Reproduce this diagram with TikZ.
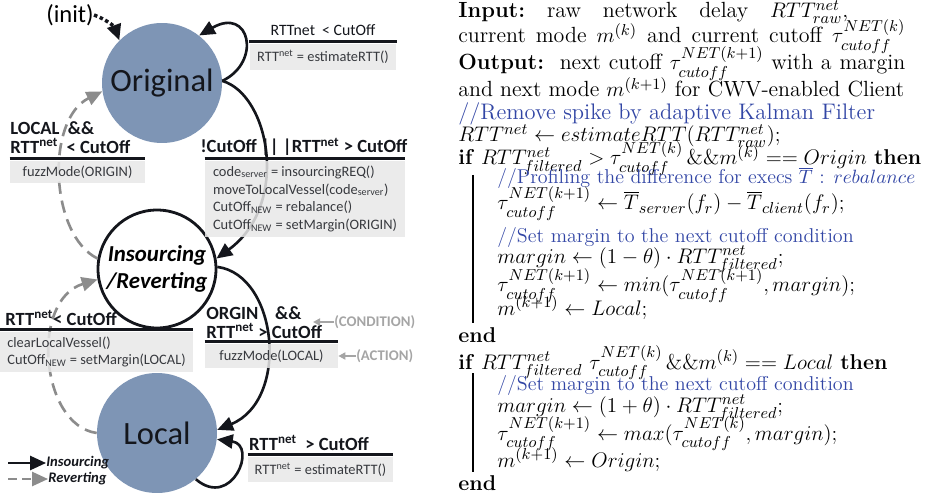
\documentclass[tikz,border=0pt]{standalone}
\usepackage{fontspec}
\usepackage{amsmath}
\usepackage{xcolor}
\usepackage{tikz}
\usetikzlibrary{arrows.meta,positioning,calc}
\newfontfamily\diagfont{Carlito}
\definecolor{ink}{RGB}{20,22,28}
\definecolor{slate}{RGB}{126,149,181}
\definecolor{boxgrey}{RGB}{232,232,232}
\definecolor{revgrey}{RGB}{140,140,140}
\definecolor{notegrey}{RGB}{165,165,165}
\definecolor{cmt}{RGB}{50,70,165}

\begin{document}
\begin{tikzpicture}[x=0.02cm,y=-0.02cm,font=\diagfont,
 mode/.style={circle,fill=slate,minimum size=2.4cm,inner sep=0pt,font=\diagfont\fontsize{18.5}{21}\selectfont,text=ink},
 trans/.style={circle,draw=ink,line width=1.6pt,fill=white,minimum size=2.36cm,inner sep=0pt,align=center,font=\diagfont\bfseries\itshape\fontsize{13}{15.5}\selectfont},
 go/.style={line width=1.5pt,draw=ink,-{Triangle[length=9pt,width=8pt]}},
 back/.style={line width=1.5pt,draw=revgrey,dash pattern=on 7pt off 4pt,-{Triangle[length=9pt,width=8pt,fill=revgrey]}},
 cond/.style={font=\diagfont\bfseries\fontsize{10.6}{11}\selectfont,text=ink,inner sep=0pt,align=left},
 act/.style={fill=boxgrey,fill opacity=0.85,text opacity=1,text=ink!85,font=\diagfont\fontsize{8.2}{10.2}\selectfont,inner sep=0pt},
 rule/.style={line width=1.2pt,draw=ink},
 note/.style={text=notegrey,inner sep=0pt,font=\diagfont\bfseries\fontsize{8.4}{10}\selectfont},
 pointer/.style={draw=notegrey,line width=1.2pt,-{Triangle[length=4pt,width=4pt]}},
 legend/.style={inner sep=0pt,text=ink,font=\diagfont\bfseries\itshape\fontsize{8.3}{10}\selectfont},
 alg/.style={anchor=base west,inner sep=0pt,font=\fontsize{12.2}{14}\selectfont},
 algtop/.style={alg,font=\fontsize{12.5}{14}\selectfont\frenchspacing},
 algc/.style={alg,text=cmt,font=\fontsize{11.4}{13}\selectfont}]
 \useasboundingbox (0,0) rectangle (925,496);

 % states
 \node[mode] (orig) at (162,83) {Original};
 \node[trans] (ins) at (157,269) {Insourcing\\/Reverting};
 \node[mode] (loc) at (157,433) {Local};
 \node[inner sep=0pt,font=\diagfont\fontsize{14}{16}\selectfont] (init) at (70,15) {(init)};

 % transitions
 \draw[go,dash pattern=on 2pt off 1.5pt,line width=2pt] (init.east) to[bend left=25] (orig.135);
 \draw[go] (orig.2) .. controls (262,62) and (250,6) .. (orig.52);
 \draw[go] (orig.2) .. controls (270,95) and (290,205) .. (ins.10);
 \draw[go] (ins.2) .. controls (278,275) and (290,400) .. (loc.3);
 \draw[go] (loc.-50) .. controls (232,510) and (258,445) .. (loc.-6);
 \draw[back] (loc.180) .. controls (40,425) and (30,300) .. (ins.190);
 \draw[back] (ins.170) .. controls (50,235) and (45,120) .. (orig.188);

 % conditions / actions
 \node[act,minimum width=2.94cm,minimum height=0.52cm] (a1) at (323,57) {RTT\textsuperscript{net} = estimateRTT()};
 \draw[rule] ([yshift=1.2pt]a1.north west) -- ([yshift=1.2pt]a1.north east);
 \node[anchor=base,inner sep=0pt,text=ink,font=\diagfont\fontsize{9}{11}\selectfont] (c1) at (323,36) {RTTnet\ \ < CutOff};

 \node[act,minimum width=4cm,minimum height=1.52cm,align=left] (a2) at (305,199)
   {code\textsubscript{server} = insourcingREQ()\\moveToLocalVessel(code\textsubscript{server})\\CutOff\textsubscript{NEW} = rebalance()\\CutOff\textsubscript{NEW} = setMargin(ORIGIN)};
 \draw[rule] ([yshift=1.2pt]a2.north west) -- ([yshift=1.2pt]a2.north east);
 \node[cond,anchor=base] (c2) at (304,153) {!CutOff || |RTT\textsuperscript{net} > CutOff};

 \node[act,minimum width=2.7cm,minimum height=0.44cm] (a3) at (77.5,172) {fuzzMode(ORIGIN)};
 \draw[rule] ([yshift=1.2pt]a3.north west) -- ([yshift=1.2pt]a3.north east);
 \node[cond,anchor=south west] (c3) at (10,154) {LOCAL\ \ \&\&\\RTT\textsuperscript{net}\ \ < CutOff};

 \node[act,minimum width=3.86cm,minimum height=0.8cm,align=left] (a4) at (96.5,352)
   {clearLocalVessel()\\CutOff\textsubscript{NEW} = setMargin(LOCAL)};
 \draw[rule] ([yshift=1.2pt]a4.north west) -- ([yshift=1.2pt]a4.north east);
 \node[cond,anchor=south west] (c4) at (5,326) {RTT\textsuperscript{net}< CutOff};

 \node[act,minimum width=2.66cm,minimum height=0.48cm] (a5) at (271.5,356) {fuzzMode(LOCAL)};
 \draw[rule] ([yshift=1.2pt]a5.north west) -- ([yshift=1.2pt]a5.north east);
 \node[cond,anchor=south west] (c5) at (206,339) {ORGIN\ \ \ \ \&\&\\RTT\textsuperscript{net} > CutOff};

 \node[act,minimum width=2.9cm,minimum height=0.5cm] (a6) at (320.5,469.5) {RTT\textsuperscript{net} = estimateRTT()};
 \draw[rule] ([yshift=1.2pt]a6.north west) -- ([yshift=1.2pt]a6.north east);
 \node[cond,anchor=base] (c6) at (309,450) {RTT\textsuperscript{net}\ \ > CutOff};

 \node[note,anchor=west] (ncond) at (334,322) {(CONDITION)};
 \node[note,anchor=west] (nact) at (356,356) {(ACTION)};
 \coordinate (condtip) at (313,322);
 \draw[pointer] (ncond.west) -- (condtip);
 \draw[pointer] (nact.west) -- (a5.east);

 % legend
 \coordinate (lg1) at (8,463);
 \coordinate (lg2) at (8,479);
 \node[legend,anchor=west] (lgins) at (46,463) {Insourcing};
 \node[legend,anchor=west] (lgrev) at (48,479) {Reverting};
 \draw[go,line width=1.2pt] (lg1) -- (lgins.west);
 \draw[back,line width=1.2pt,dash pattern=on 5pt off 3pt] (lg2) -- (lgrev.west);

 % algorithm
 \node[algtop] (l1) at (458,18) {\makebox[7.8cm][s]{\textbf{Input:} raw network delay $RTT^{net}_{raw}$,}};
 \node[algtop] (l2) at (458,43) {\makebox[8.94cm][s]{current mode $m^{(k)}$ and current cutoff $\tau^{NET(k)}_{cutoff}$}};
 \node[algtop] (l3) at (458,70) {\makebox[8.94cm][s]{\textbf{Output:}\ \ next cutoff $\tau^{NET(k+1)}_{cutoff}$ with a margin}};
 \node[algtop] (l4) at (458,97) {and next mode $m^{(k+1)}$ for CWV-enabled Client};
 \node[algtop,text=cmt,font=\fontsize{12.8}{14}\selectfont] (l5) at (458,120) {//Remove spike by adaptive Kalman Filter};
 \node[algtop] (l6) at (458,142) {$RTT^{net} \leftarrow estimateRTT(RTT^{net}_{raw});$};
 \node[alg] (l7) at (458,165) {\textbf{if} $RTT^{net}_{filtered} > \tau^{NET(k)}_{cutoff}\,\&\&m^{(k)} \mathrel{==} Origin$ \textbf{then}};
 \node[algc] (l8) at (497,184) {//Profiling the difference for execs $\overline{T}$ : $rebalance$};
 \node[alg] (l9) at (497,210) {$\tau^{NET(k+1)}_{cutoff} \leftarrow \overline{T}_{server}(f_r) - \overline{T}_{client}(f_r);$};
 \node[algc] (l10) at (497,243) {//Set margin to the next cutoff condition};
 \node[alg] (l11) at (497,263) {$margin \leftarrow (1-\theta)\cdot RTT^{net}_{filtered};$};
 \node[alg] (l12) at (497,292) {$\tau^{NET(k+1)}_{cutoff} \leftarrow min(\tau^{NET(k+1)}_{cutoff}, margin);$};
 \node[alg] (l13) at (497,315) {$m^{(k+1)} \leftarrow Local;$};
 \node[alg] (l14) at (458,342) {\textbf{end}};
 \node[alg] (l15) at (458,369) {\textbf{if} $RTT^{net}_{filtered}\ \tau^{NET(k)}_{cutoff}\,\&\&m^{(k)} \mathrel{==} Local$ \textbf{then}};
 \node[algc] (l16) at (497,390) {//Set margin to the next cutoff condition};
 \node[alg] (l17) at (497,412) {$margin \leftarrow (1+\theta)\cdot RTT^{net}_{filtered};$};
 \node[alg] (l18) at (497,440) {$\tau^{NET(k+1)}_{cutoff} \leftarrow max(\tau^{NET(k)}_{cutoff}, margin);$};
 \node[alg] (l19) at (497,467) {$m^{(k+1)} \leftarrow Origin;$};
 \node[alg] (l20) at (458,490) {\textbf{end}};
 \draw[line width=1pt] (473,175) -- (473,323);
 \draw[line width=1pt] (473,373) -- (473,472);
\end{tikzpicture}
\end{document}
